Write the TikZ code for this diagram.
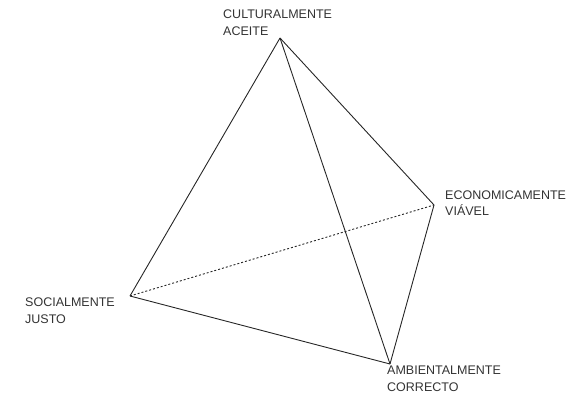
\documentclass[tikz,border=0pt]{standalone}
\usepackage{fontspec}
\setmainfont{Liberation Sans}
\usetikzlibrary{positioning}

\begin{document}
\begin{tikzpicture}[
        x=1pt, y=-1pt,
        edge/.style={line width=0.9pt, black!85},
        hidden/.style={edge, dash pattern=on 2pt off 2pt},
        tag/.style={inner sep=0pt, anchor=base west, align=left, text=black!80,
                    font=\fontsize{12.5}{17}\selectfont}
    ]
    \useasboundingbox (0,0) rectangle (583,395);

    % Vertices of the tetrahedron
    \coordinate (cult) at (280,38);
    \coordinate (econ) at (434,205);
    \coordinate (soc)  at (130,296);
    \coordinate (amb)  at (390,364);

    % Labels (anchored at the baseline of the last line)
    \node[tag] (cultlabel) at (223,36)  {CULTURALMENTE\\ACEITE};
    \node[tag] (econlabel) at (445,216) {ECONOMICAMENTE\\VIÁVEL};
    \node[tag] (soclabel)  at (25,323)  {SOCIALMENTE\\JUSTO};
    \node[tag] (amblabel)  at (387,391) {AMBIENTALMENTE\\CORRECTO};

    % Visible edges
    \draw[edge] (cult) -- (soc);
    \draw[edge] (cult) -- (econ);
    \draw[edge] (cult) -- (amb);
    \draw[edge] (econ) -- (amb);
    \draw[edge] (soc) -- (amb);

    % Hidden edge
    \draw[hidden] (soc) -- (econ);

\end{tikzpicture}
\end{document}
